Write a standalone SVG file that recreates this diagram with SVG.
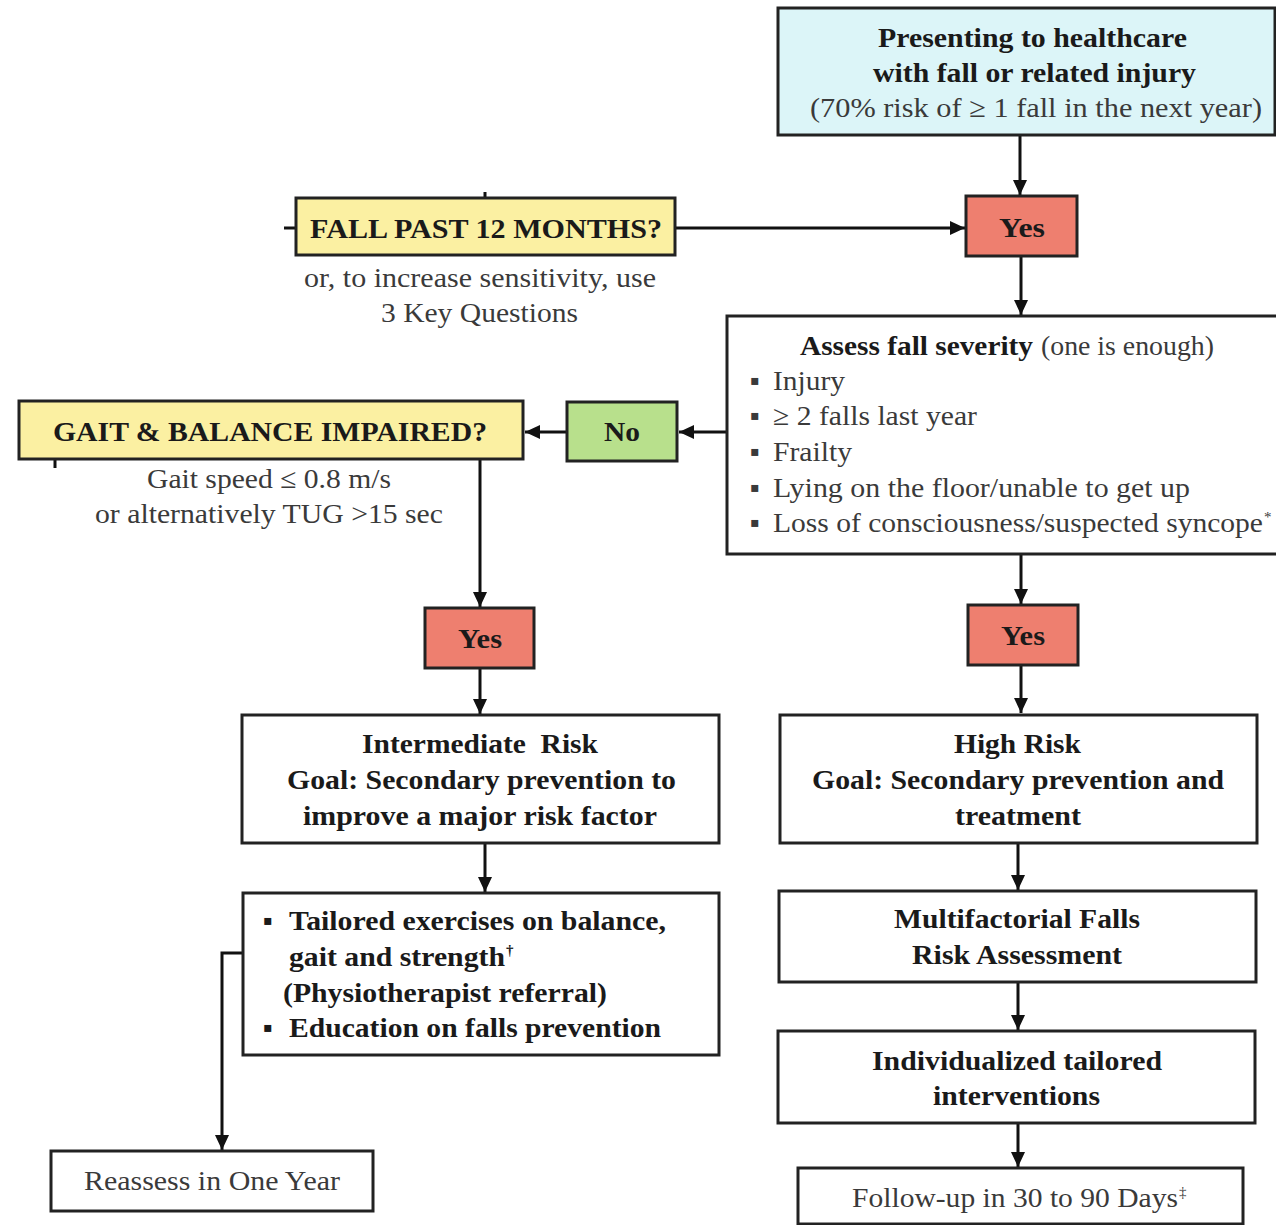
<svg xmlns="http://www.w3.org/2000/svg" width="1276" height="1225" viewBox="0 0 1276 1225">
<defs>
<marker id="arr" markerUnits="userSpaceOnUse" markerWidth="16" markerHeight="16" refX="15" refY="8" orient="auto">
<path d="M0,1 L15,8 L0,15 z" fill="#111"/>
</marker>
<style>
.box{stroke:#222;stroke-width:3;fill:#fff}
.cyan{fill:#dcf5f8}
.yel{fill:#fbf0a2}
.red{fill:#ee7f6f}
.grn{fill:#b8e08c}
.b{font-family:"Liberation Serif",serif;font-weight:bold;font-size:28px;fill:#1a1a1a}
.r{font-family:"Liberation Serif",serif;font-size:28px;fill:#3a3a3a}
.sup{font-size:15px}
.ln{stroke:#111;stroke-width:3;fill:none}
</style>
</defs>
<rect width="1276" height="1225" fill="#fff"/>

<g id="connectors">
<line class="ln" x1="1020" y1="136" x2="1020" y2="195" marker-end="url(#arr)"/>
<line class="ln" x1="675" y1="228" x2="965" y2="228" marker-end="url(#arr)"/>
<line class="ln" x1="284" y1="228" x2="296" y2="228"/>
<line class="ln" x1="485" y1="192" x2="485" y2="198"/>
<line class="ln" x1="1021" y1="256" x2="1021" y2="315" marker-end="url(#arr)"/>
<line class="ln" x1="727" y1="432" x2="679" y2="432" marker-end="url(#arr)"/>
<line class="ln" x1="567" y1="432" x2="525" y2="432" marker-end="url(#arr)"/>
<line class="ln" x1="55" y1="459" x2="55" y2="468"/>
<line class="ln" x1="480" y1="460" x2="480" y2="607" marker-end="url(#arr)"/>
<line class="ln" x1="480" y1="668" x2="480" y2="714" marker-end="url(#arr)"/>
<line class="ln" x1="485" y1="843" x2="485" y2="892" marker-end="url(#arr)"/>
<polyline class="ln" points="243,953 222,953 222,1150" marker-end="url(#arr)"/>
<line class="ln" x1="1021" y1="555" x2="1021" y2="604" marker-end="url(#arr)"/>
<line class="ln" x1="1021" y1="665" x2="1021" y2="713" marker-end="url(#arr)"/>
<line class="ln" x1="1018" y1="843" x2="1018" y2="890" marker-end="url(#arr)"/>
<line class="ln" x1="1018" y1="982" x2="1018" y2="1030" marker-end="url(#arr)"/>
<line class="ln" x1="1018" y1="1123" x2="1018" y2="1167" marker-end="url(#arr)"/>
</g>

<g id="presenting">
<rect class="box cyan" x="778" y="8" width="497" height="127"/>
<text class="b" x="878" y="47" textLength="309" lengthAdjust="spacingAndGlyphs">Presenting to healthcare</text>
<text class="b" x="873" y="82" textLength="323" lengthAdjust="spacingAndGlyphs">with fall or related injury</text>
<text class="r" x="810" y="117" textLength="452" lengthAdjust="spacingAndGlyphs">(70% risk of ≥ 1 fall in the next year)</text>
</g>

<g id="yes-top">
<rect class="box red" x="966" y="196" width="111" height="60"/>
<text class="b" x="999" y="237" textLength="46" lengthAdjust="spacingAndGlyphs">Yes</text>
</g>

<g id="fall-past">
<rect class="box yel" x="296" y="198" width="379" height="57"/>
<text class="b" x="310" y="238" textLength="352" lengthAdjust="spacingAndGlyphs">FALL PAST 12 MONTHS?</text>
<text class="r" x="304" y="287" textLength="352" lengthAdjust="spacingAndGlyphs">or, to increase sensitivity, use</text>
<text class="r" x="381" y="322" textLength="197" lengthAdjust="spacingAndGlyphs">3 Key Questions</text>
</g>

<g id="assess">
<rect class="box" x="727" y="316" width="552" height="238"/>
<text class="b" x="800" y="355" textLength="233" lengthAdjust="spacingAndGlyphs">Assess fall severity</text>
<text class="r" x="1041" y="355" textLength="173" lengthAdjust="spacingAndGlyphs">(one is enough)</text>
<g class="r">
<text x="750" y="390">▪</text>
<text x="773" y="390" textLength="72" lengthAdjust="spacingAndGlyphs">Injury</text>
<text x="750" y="425">▪</text>
<text x="773" y="425" textLength="204" lengthAdjust="spacingAndGlyphs">≥ 2 falls last year</text>
<text x="750" y="461">▪</text>
<text x="773" y="461" textLength="79" lengthAdjust="spacingAndGlyphs">Frailty</text>
<text x="750" y="497">▪</text>
<text x="773" y="497" textLength="417" lengthAdjust="spacingAndGlyphs">Lying on the floor/unable to get up</text>
<text x="750" y="532">▪</text>
<text x="773" y="532" textLength="490" lengthAdjust="spacingAndGlyphs">Loss of consciousness/suspected syncope</text>
<text class="sup" x="1264" y="522">*</text>
</g>
</g>

<g id="no">
<rect class="box grn" x="567" y="402" width="110" height="59"/>
<text class="b" x="604" y="441" textLength="36" lengthAdjust="spacingAndGlyphs">No</text>
</g>

<g id="gait">
<rect class="box yel" x="19" y="401" width="504" height="58"/>
<text class="b" x="53" y="441" textLength="434" lengthAdjust="spacingAndGlyphs">GAIT &amp; BALANCE IMPAIRED?</text>
<text class="r" x="147" y="488" textLength="244" lengthAdjust="spacingAndGlyphs">Gait speed ≤ 0.8 m/s</text>
<text class="r" x="95" y="523" textLength="348" lengthAdjust="spacingAndGlyphs">or alternatively TUG &gt;15 sec</text>
</g>

<g id="yes-left">
<rect class="box red" x="425" y="608" width="109" height="60"/>
<text class="b" x="458" y="648" textLength="44" lengthAdjust="spacingAndGlyphs">Yes</text>
</g>

<g id="yes-right">
<rect class="box red" x="968" y="605" width="110" height="60"/>
<text class="b" x="1001" y="645" textLength="44" lengthAdjust="spacingAndGlyphs">Yes</text>
</g>

<g id="intermediate">
<rect class="box" x="242" y="715" width="477" height="128"/>
<text class="b" x="362" y="753" textLength="236" lengthAdjust="spacingAndGlyphs" xml:space="preserve">Intermediate  Risk</text>
<text class="b" x="287" y="789" textLength="389" lengthAdjust="spacingAndGlyphs">Goal: Secondary prevention to</text>
<text class="b" x="303" y="825" textLength="354" lengthAdjust="spacingAndGlyphs">improve a major risk factor</text>
</g>

<g id="high">
<rect class="box" x="780" y="715" width="477" height="128"/>
<text class="b" x="954" y="753" textLength="127" lengthAdjust="spacingAndGlyphs">High Risk</text>
<text class="b" x="812" y="789" textLength="412" lengthAdjust="spacingAndGlyphs">Goal: Secondary prevention and</text>
<text class="b" x="955" y="825" textLength="126" lengthAdjust="spacingAndGlyphs">treatment</text>
</g>

<g id="tailored">
<rect class="box" x="243" y="893" width="476" height="162"/>
<text class="b" x="263" y="930">▪</text>
<text class="b" x="289" y="930" textLength="377" lengthAdjust="spacingAndGlyphs">Tailored exercises on balance,</text>
<text class="b" x="289" y="966" textLength="216" lengthAdjust="spacingAndGlyphs">gait and strength</text>
<text class="b sup" x="506" y="955">†</text>
<text class="b" x="283" y="1002" textLength="324" lengthAdjust="spacingAndGlyphs">(Physiotherapist referral)</text>
<text class="b" x="263" y="1037">▪</text>
<text class="b" x="289" y="1037" textLength="372" lengthAdjust="spacingAndGlyphs">Education on falls prevention</text>
</g>

<g id="multifactorial">
<rect class="box" x="779" y="891" width="477" height="91"/>
<text class="b" x="894" y="928" textLength="246" lengthAdjust="spacingAndGlyphs">Multifactorial Falls</text>
<text class="b" x="912" y="964" textLength="210" lengthAdjust="spacingAndGlyphs">Risk Assessment</text>
</g>

<g id="individualized">
<rect class="box" x="778" y="1031" width="477" height="92"/>
<text class="b" x="872" y="1070" textLength="290" lengthAdjust="spacingAndGlyphs">Individualized tailored</text>
<text class="b" x="933" y="1105" textLength="167" lengthAdjust="spacingAndGlyphs">interventions</text>
</g>

<g id="reassess">
<rect class="box" x="51" y="1151" width="322" height="60"/>
<text class="r" x="84" y="1190" textLength="256" lengthAdjust="spacingAndGlyphs">Reassess in One Year</text>
</g>

<g id="followup">
<rect class="box" x="798" y="1168" width="445" height="56"/>
<text class="r" x="852" y="1207" textLength="326" lengthAdjust="spacingAndGlyphs">Follow-up in 30 to 90 Days</text>
<text class="r sup" x="1179" y="1197">‡</text>
</g>
</svg>
